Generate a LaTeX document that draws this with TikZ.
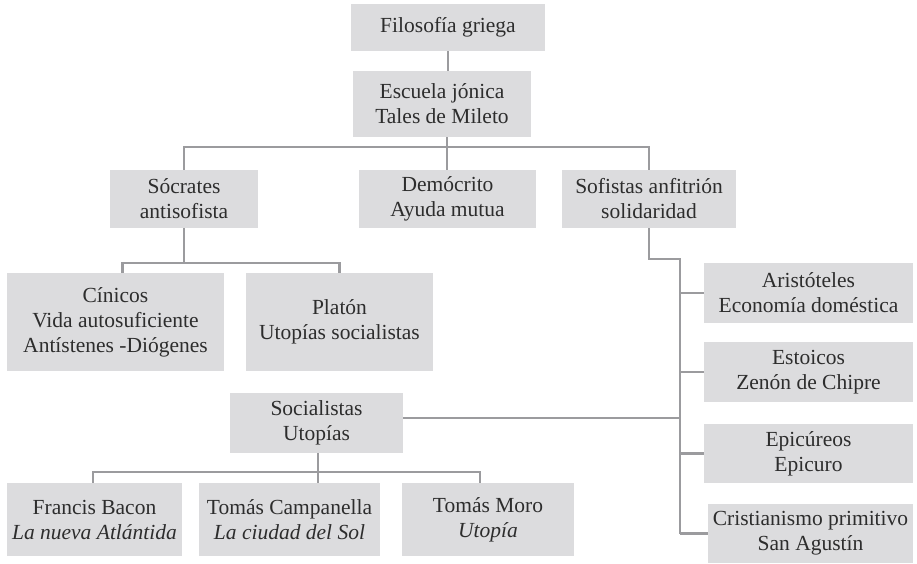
\documentclass[tikz,border=0pt]{standalone}
\usepackage{fontspec}
\setmainfont{Liberation Serif}
\definecolor{boxgray}{RGB}{220,220,222}
\definecolor{linegray}{RGB}{155,155,158}
\definecolor{inkgray}{RGB}{45,45,45}
\tikzset{
	box/.style={fill=boxgray, text=inkgray, align=center, inner sep=0pt,
		font=\fontsize{21.5}{25}\selectfont},
	link/.style={draw=linegray, line width=2.4pt}
}

\begin{document}
\begin{tikzpicture}[x=1pt,y=-1pt]
				\useasboundingbox (0,0) rectangle (917,563);
				
				\node[box, minimum width=194pt, minimum height=47pt] (fil) at (448,27.5) {Filosofía griega};
				\node[box, minimum width=178pt, minimum height=66pt] (esc) at (442,104) {Escuela jónica\\Tales de Mileto};
				
				\node[box, minimum width=148pt, minimum height=58pt] (soc) at (184,199) {Sócrates\\antisofista};
				\node[box, minimum width=177pt, minimum height=58pt] (dem) at (447.5,199) {Demócrito\\Ayuda mutua};
				\node[box, minimum width=174pt, minimum height=58pt] (sof) at (649,199) {Sofistas anfitrión\\solidaridad};
				
				\node[box, minimum width=217pt, minimum height=98pt] (cin) at (115.5,322) {Cínicos\\Vida autosuficiente\\Antístenes -Diógenes};
				\node[box, minimum width=187pt, minimum height=98pt] (pla) at (339.5,322) {Platón\\Utopías socialistas};
				
				\node[box, minimum width=173pt, minimum height=60pt] (uto) at (316.5,423) {Socialistas\\Utopías};
				\node[box, minimum width=175pt, minimum height=73pt] (bac) at (94.5,519.5) {Francis Bacon\\\textit{La nueva Atlántida}};
				\node[box, minimum width=181pt, minimum height=73pt] (cam) at (289.5,519.5) {Tomás Campanella\\\textit{La ciudad del Sol}};
				\node[box, minimum width=172pt, minimum height=73pt] (mor) at (488,519.5) {Tomás Moro\\\textit{Utopía}};
				
				\node[box, minimum width=209pt, minimum height=60pt] (ari) at (808.5,293) {Aristóteles\\Economía doméstica};
				\node[box, minimum width=209pt, minimum height=60pt] (est) at (808.5,372) {Estoicos\\Zenón de Chipre};
				\node[box, minimum width=209pt, minimum height=59pt] (epi) at (808.5,453.5) {Epicúreos\\Epicuro};
				\node[box, minimum width=205pt, minimum height=59pt] (cri) at (810.5,533.5) {Cristianismo primitivo\\San Agustín};
				
				\coordinate (j1) at (447,147);
				\coordinate (j2) at (184,263);
				\coordinate (j3) at (318,472);
				\coordinate (tr) at (680,259);
				
				\draw[link] (fil.south) -- (fil.south |- esc.north);
				\draw[link] (esc.south -| j1) -- (dem.north -| j1);
				\draw[link] (soc.north) |- (j1) -| (sof.north);
				
				\draw[link] (soc.south) -- (j2);
				\draw[link] ([xshift=7pt]cin.north) |- (j2) -| (pla.north);
				
				\draw[link] (sof.south) |- (tr) -- (tr |- cri.west);
				\foreach \n in {ari,est,epi,cri}
					\draw[link] (\n.west) -- (\n.west -| tr);
				\draw[link] ([yshift=5pt]uto.east) -- ([yshift=5pt]uto.east -| tr);
				
				\draw[link] (uto.south -| j3) -- (cam.north -| j3);
				\draw[link] ([xshift=-1.5pt]bac.north) |- (j3) -| ([xshift=-8pt]mor.north);
			\end{tikzpicture}
\end{document}
